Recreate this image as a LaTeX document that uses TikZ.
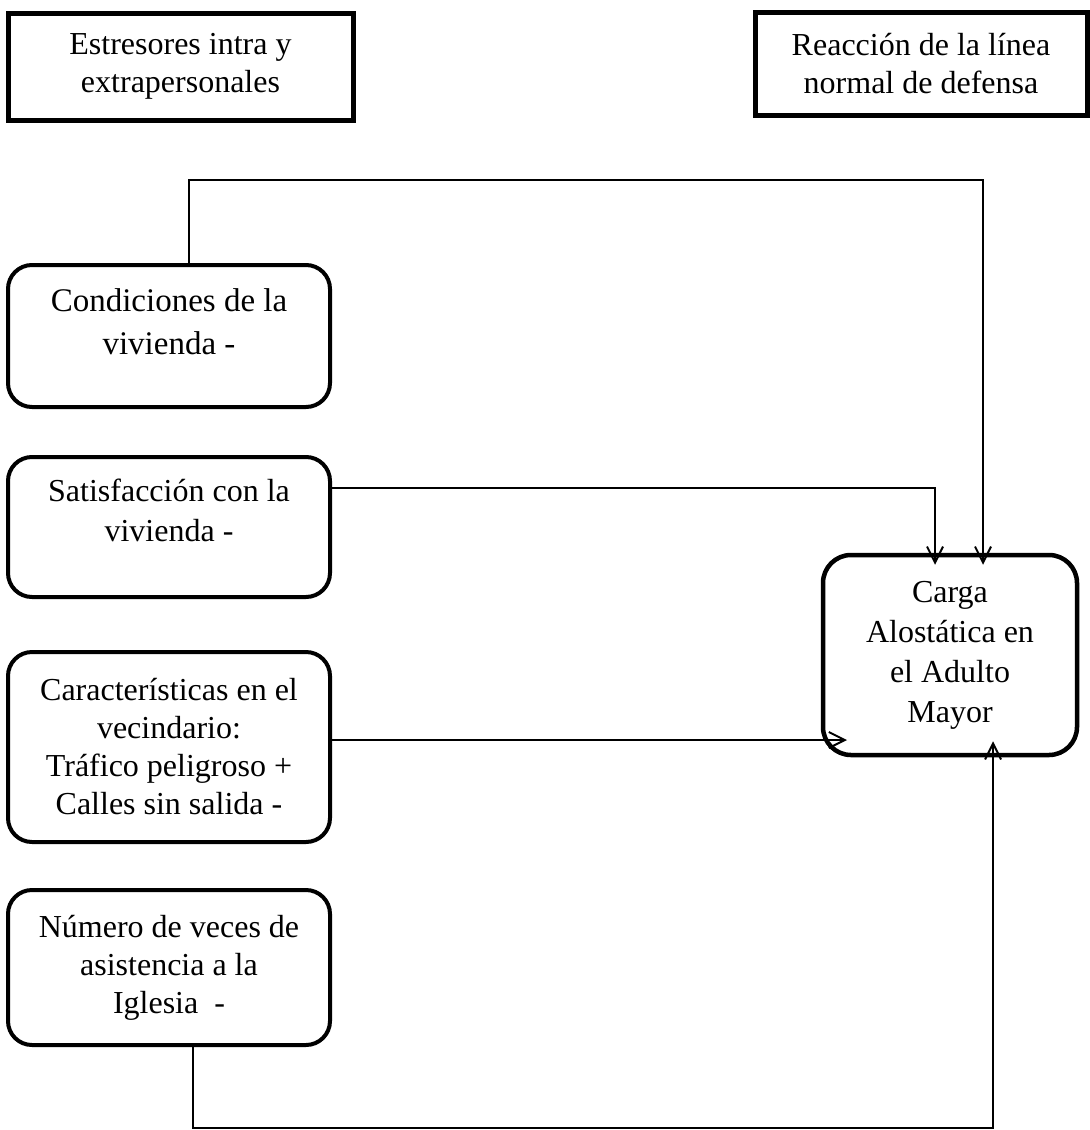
\documentclass[tikz,border=0pt]{standalone}
\usepackage{fontspec}
\setmainfont{Liberation Serif}
\usetikzlibrary{arrows.meta}

\begin{document}
\begin{tikzpicture}[x=0.5pt,y=-0.5pt,>={Straight Barb[length=8pt,width=8pt]},
  frame/.style={draw,line width=2.5pt,align=center,font=\fontsize{16}{19}\selectfont},
  factor/.style={draw,line width=2pt,rounded corners=12pt,align=center,minimum width=161pt,font=\fontsize{16}{19}\selectfont},
  conn/.style={line width=1pt}]
\useasboundingbox (0,0) rectangle (1090,1130);
% titulos
\node[frame,minimum width=172.5pt,minimum height=53.5pt] (estres) at (180.5,66.5) {Estresores intra y\\extrapersonales};
\node[frame,minimum width=166pt,minimum height=51.5pt] (reacc) at (921,63.5) {Reacción de la línea\\normal de defensa};
% factores
\node[factor,minimum height=71pt,text depth=14pt,font=\fontsize{16.5}{21.5}\selectfont] (cond) at (169,336) {Condiciones de la\\vivienda -};
\node[factor,minimum height=70pt,text depth=17pt,font=\fontsize{16}{20}\selectfont] (satis) at (169,527) {Satisfacción con la\\vivienda -};
\node[factor,minimum height=95pt] (caract) at (169,747) {Características en el\\vecindario:\\Tráfico peligroso +\\Calles sin salida -};
\node[factor,minimum height=77.5pt] (numero) at (169,967.5) {Número de veces de\\asistencia a la\\Iglesia~ -};
\node[factor,line width=2.25pt,rounded corners=14pt,minimum width=127pt,minimum height=100pt,font=\fontsize{16}{20}\selectfont] (carga) at (950,655) {Carga\\Alostática en\\el Adulto\\Mayor};
% conectores
\coordinate (tl) at (189,180); \coordinate (tr) at (983,180);
\coordinate (sr) at (935,488); \coordinate (cr) at (847,740);
\coordinate (bl) at (193,1128); \coordinate (br) at (993,1128);
\draw[conn,->,shorten >=-6pt] (cond.north -| tl) -- (tl) -- (tr) -- (carga.north -| tr);
\draw[conn,->,shorten >=-6pt] (satis.east |- sr) -- (sr) -- (carga.north -| sr);
\draw[conn,->] (caract.east |- cr) -- (cr);
\draw[conn,->,shorten >=-8pt] (numero.south -| bl) -- (bl) -- (br) -- (carga.south -| br);
\end{tikzpicture}
\end{document}
